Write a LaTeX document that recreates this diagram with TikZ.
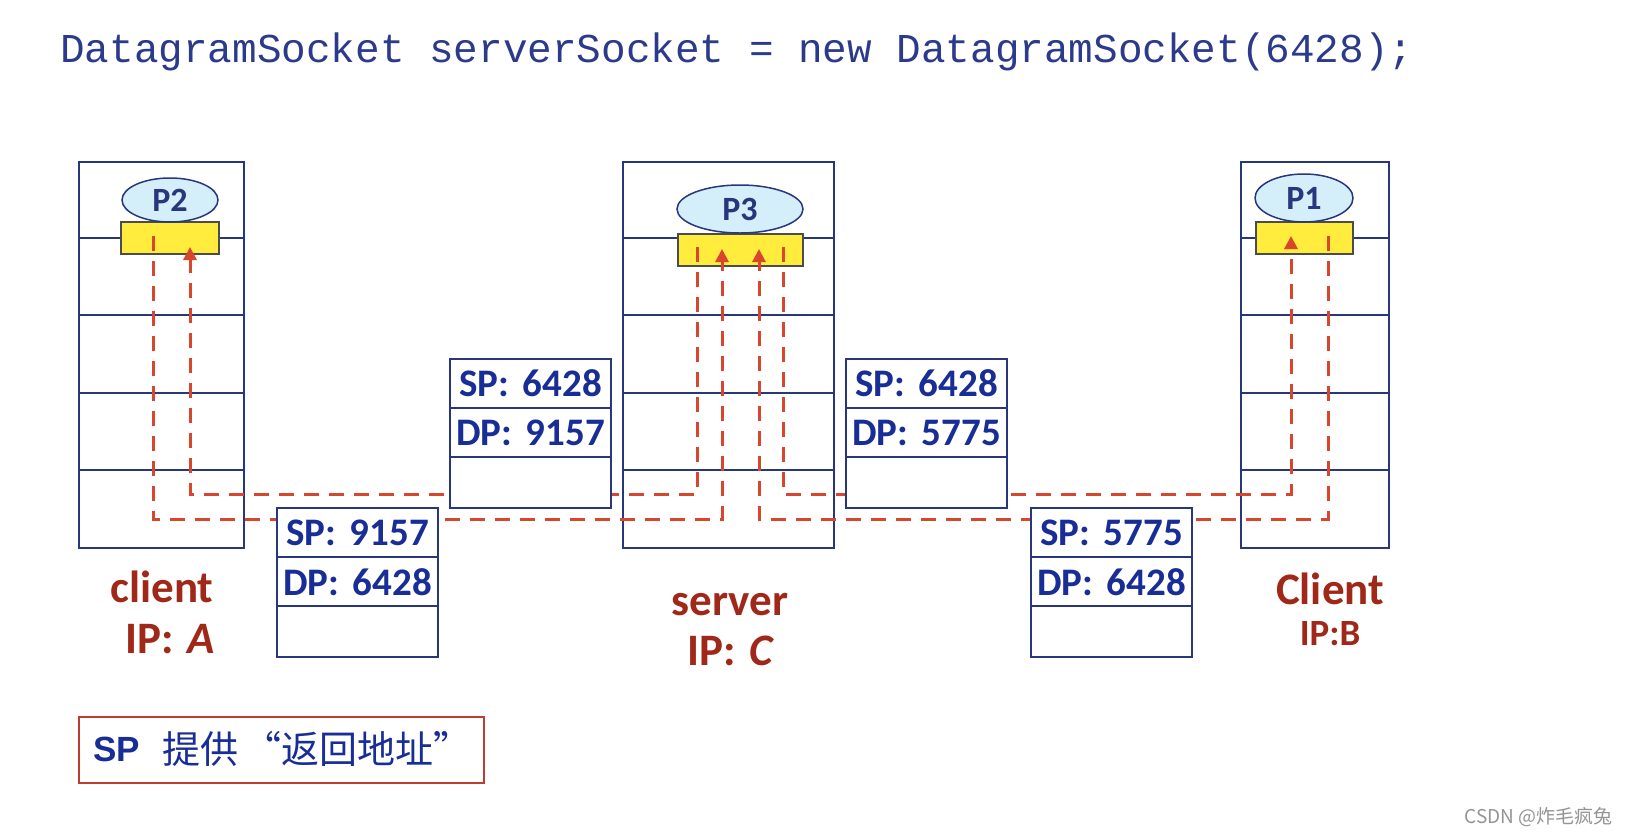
\documentclass[tikz,border=0pt]{standalone}
\usepackage{fontspec}
\setmainfont{Carlito}
\newfontfamily\codefont{Liberation Mono}
\newfontfamily\cjk{Noto Sans CJK SC}
\newfontfamily\arialfont{Liberation Sans}
\usetikzlibrary{arrows.meta,shapes.geometric}
\definecolor{navy}{RGB}{40,55,125}
\definecolor{titleblue}{RGB}{44,58,140}
\definecolor{pkblue}{RGB}{25,45,150}
\definecolor{procfill}{RGB}{212,238,250}
\definecolor{sockyellow}{RGB}{255,236,60}
\definecolor{flowred}{RGB}{215,70,45}
\definecolor{labelred}{RGB}{160,40,25}
\definecolor{noteborder}{RGB}{190,60,50}
\tikzset{
  hostbox/.style={draw=navy, line width=2pt, fill=white, inner sep=0pt, minimum width=#1, minimum height=386pt},
  rowline/.style={draw=navy, line width=2pt},
  procell/.style={ellipse, draw=navy, line width=1.5pt, fill=procfill, inner sep=0pt, text=navy, font=\bfseries\fontsize{34}{34}\selectfont},
  sockbox/.style={draw=black!70, line width=1.5pt, fill=sockyellow, inner sep=0pt, minimum height=32pt},
  pkbox/.style={draw=navy, line width=2pt, fill=white, inner sep=0pt, minimum width=161pt, minimum height=149pt},
  pktext/.style={text=pkblue, inner sep=0pt, font=\bfseries\fontsize{39}{39}\selectfont},
  flow/.style={draw=flowred, line width=3pt, dash pattern=on 15pt off 10pt, -{Triangle[length=13pt,width=13pt]}},
  hostlabel/.style={text=labelred, inner sep=0pt, anchor=base, font=\bfseries\fontsize{45}{45}\selectfont},
}
\newcommand\mkpacket[5]{%
  \node[pkbox, anchor=north west] (#1) at (#2,#3) {};
  \draw[rowline] ([yshift=-50pt]#1.north west) -- ([yshift=-50pt]#1.north east);
  \draw[rowline] ([yshift=-99pt]#1.north west) -- ([yshift=-99pt]#1.north east);
  \node[pktext] (#1sp) at ([yshift=-25.5pt]#1.north) {SP:\hspace{0.35em}#4};
  \node[pktext] (#1dp) at ([yshift=-75pt]#1.north) {DP:\hspace{0.35em}#5};
}
\begin{document}
\begin{tikzpicture}[x=1pt,y=-1pt]
\useasboundingbox (0,0) rectangle (1630,836);
\fill[white] (0,0) rectangle (1630,836);

% title
\node[anchor=base west, inner sep=0pt, text=titleblue, font=\codefont\fontsize{41}{41}\selectfont] (title) at (60,62) {DatagramSocket serverSocket = new DatagramSocket(6428);};

% hosts
\node[hostbox=165pt, anchor=north west] (hA) at (78,161) {};
\node[hostbox=211pt, anchor=north west] (hS) at (622,161) {};
\node[hostbox=148pt, anchor=north west] (hB) at (1240,161) {};
\foreach \h in {hA,hS,hB}{
  \foreach \yy in {238,315,393,470}{
    \draw[rowline] (\h.west |- 0,\yy) -- (\h.east |- 0,\yy);
  }
}

% sockets and processes
\node[sockbox, minimum width=98pt] (sA) at (170,238) {};
\node[sockbox, minimum width=125pt] (sS) at (740.5,250) {};
\node[sockbox, minimum width=97pt] (sB) at (1304.5,238) {};
\node[procell, minimum width=96pt, minimum height=44pt] (p2) at (170,200) {P2};
\node[procell, minimum width=126pt, minimum height=48pt] (p3) at (740,209) {P3};
\node[procell, minimum width=98pt, minimum height=48pt] (p1) at (1304,198) {P1};

% flow endpoints
\coordinate (aOut) at (153,236);
\coordinate (aIn) at (190,247);
\coordinate (sOutA) at (697,247);
\coordinate (sInA) at (722,249);
\coordinate (sInB) at (759,249);
\coordinate (sOutB) at (783,247);
\coordinate (bIn) at (1291,236);
\coordinate (bOut) at (1328,236);
\coordinate (lvlLow) at (0,519);
\coordinate (lvlHigh) at (0,494);

\draw[flow] (aOut) -- (aOut |- lvlLow) -- (sInA |- lvlLow) -- (sInA);
\draw[flow] (sOutA) -- (sOutA |- lvlHigh) -- (aIn |- lvlHigh) -- (aIn);
\draw[flow] (bOut) -- (bOut |- lvlLow) -- (sInB |- lvlLow) -- (sInB);
\draw[flow] (sOutB) -- (sOutB |- lvlHigh) -- (bIn |- lvlHigh) -- (bIn);

% packets
\mkpacket{pk1}{276}{507}{9157}{6428}
\mkpacket{pk2}{449}{358}{6428}{9157}
\mkpacket{pk3}{845}{358}{6428}{5775}
\mkpacket{pk4}{1030}{507}{5775}{6428}

% host labels
\node[hostlabel] (lA1) at (162,602) {client};
\node[hostlabel] (lA2) at (170,653) {IP:\hspace{0.3em}\itshape A};
\node[hostlabel] (lS1) at (730,615) {server};
\node[hostlabel] (lS2) at (730,665) {IP:\hspace{0.3em}\itshape C};
\node[hostlabel] (lB1) at (1330,604) {Client};
\node[hostlabel, font=\bfseries\fontsize{37}{37}\selectfont] (lB2) at (1330,645) {IP:B};

% note
\node[draw=noteborder, line width=2pt, fill=white, inner sep=0pt, anchor=north west, minimum width=405pt, minimum height=66pt] (note) at (78,716) {};
\node[anchor=west, inner sep=0pt, text=pkblue, font=\arialfont\bfseries\fontsize{35}{35}\selectfont] (noteSP) at (93,749) {SP};
\node[anchor=west, inner sep=0pt, text=pkblue, font=\cjk\fontsize{38}{38}\selectfont] (noteCN) at (162,749) {提供\hspace{0.15em}“返回地址”};

% watermark
\node[anchor=east, inner sep=0pt, text=black!42, font=\cjk\fontsize{19}{19}\selectfont] (wm) at (1613,817) {CSDN @炸毛疯兔};
\end{tikzpicture}
\end{document}
